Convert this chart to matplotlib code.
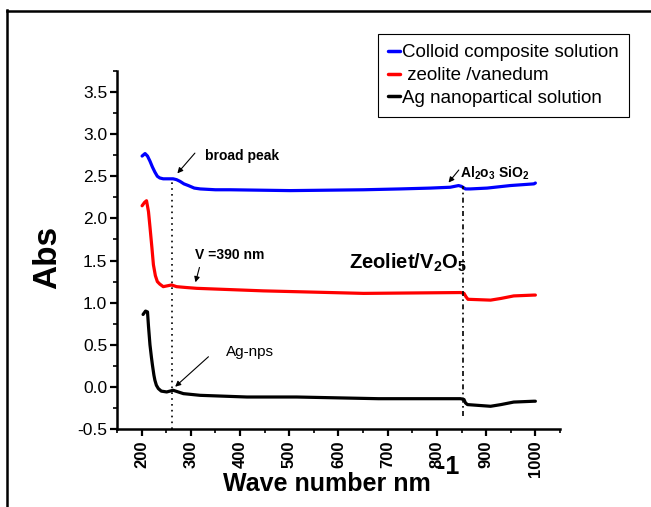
import numpy as np
import matplotlib
matplotlib.use('Agg')
import matplotlib.pyplot as plt
from matplotlib.lines import Line2D
from matplotlib.ticker import MultipleLocator

plt.rcParams['font.family'] = ['Liberation Sans', 'DejaVu Sans']
plt.rcParams['mathtext.fontset'] = 'custom'
plt.rcParams['mathtext.rm'] = 'Liberation Sans'
plt.rcParams['mathtext.bf'] = 'Liberation Sans:bold'

# curves (wave number, Abs)
blue_x = [201, 207, 212, 217, 222, 227, 232, 237, 244, 251, 264, 271, 278, 286, 295,
          307, 319, 350, 380, 502, 651, 726, 787, 827, 844, 850, 858, 868, 902, 949,
          997, 1000]
blue_y = [2.74, 2.77, 2.74, 2.68, 2.61, 2.55, 2.50, 2.48, 2.47, 2.47, 2.47, 2.46,
          2.44, 2.41, 2.39, 2.36, 2.35, 2.34, 2.34, 2.33, 2.34, 2.35, 2.36, 2.37,
          2.39, 2.38, 2.35, 2.35, 2.36, 2.39, 2.41, 2.42]

red_x = [201, 206, 210, 214, 217, 221, 224, 228, 232, 237, 244, 261, 271, 290,
         312, 447, 651, 848, 855, 859, 863, 909, 930, 956, 997, 1000]
red_y = [2.15, 2.19, 2.21, 2.08, 1.90, 1.65, 1.45, 1.32, 1.25, 1.22, 1.19, 1.21,
         1.19, 1.18, 1.17, 1.14, 1.11, 1.12, 1.11, 1.07, 1.04, 1.03, 1.05, 1.08,
         1.09, 1.09]

black_x = [203, 208, 212, 214, 217, 220, 222, 225, 227, 230, 234, 240, 251, 264,
           285, 319, 414, 515, 681, 848, 855, 858, 862, 909, 930, 956, 997, 1000]
black_y = [0.86, 0.90, 0.89, 0.72, 0.50, 0.35, 0.26, 0.14, 0.08, 0.02, -0.02, -0.05,
           -0.06, -0.04, -0.08, -0.10, -0.12, -0.12, -0.14, -0.14, -0.15, -0.19,
           -0.21, -0.23, -0.21, -0.18, -0.17, -0.17]

labels = ['Colloid composite solution', ' zeolite /vanedum', 'Ag nanopartical solution']
colors = ['#0000ff', '#ff0000', '#000000']

fig = plt.figure(figsize=(6.51, 5.07), dpi=100)
ax = fig.add_axes([0.1797, 0.1538, 0.6805, 0.7062])

for xs, ys, c, lab in zip([blue_x, red_x, black_x], [blue_y, red_y, black_y], colors, labels):
    ax.plot(xs, ys, color=c, lw=2.3, label=lab, solid_capstyle='round',
            solid_joinstyle='round')

# guide lines
ax.plot([262, 262], [-0.5, 2.45], color='black', lw=1.2, ls=(0, (1, 2.5)))
ax.plot([852, 852], [-0.35, 2.38], color='black', lw=1.2, ls=(0, (3, 2, 1, 2)))

ax.set_xlim(150, 1050)
ax.set_ylim(-0.5, 3.75)
ax.xaxis.set_major_locator(MultipleLocator(100))
ax.xaxis.set_minor_locator(MultipleLocator(50))
ax.yaxis.set_major_locator(MultipleLocator(0.5))
ax.yaxis.set_minor_locator(MultipleLocator(0.25))
ax.set_xticks(range(200, 1001, 100))
ax.yaxis.set_major_formatter(matplotlib.ticker.FormatStrFormatter('%.1f'))

for s in ['top', 'right']:
    ax.spines[s].set_visible(False)
for s in ['left', 'bottom']:
    ax.spines[s].set_linewidth(1.8)

ax.tick_params(which='major', direction='out', length=5, width=1.6)
ax.tick_params(which='minor', direction='out', length=3, width=1.2)
ax.tick_params(axis='y', labelsize=12.5, pad=2)
ax.tick_params(axis='x', labelsize=12)
for t in ax.get_xticklabels():
    t.set_rotation(90)
    t.set_fontweight('bold')

# annotations
arrow = dict(arrowstyle='-|>', color='black', lw=0.8, mutation_scale=8)
ax.annotate('', xy=(269, 2.51), xytext=(312, 2.80), arrowprops=arrow)
ax.text(329, 2.74, 'broad peak', fontsize=10, fontweight='bold', va='center')
ax.annotate('', xy=(308, 1.21), xytext=(319, 1.45), arrowprops=arrow)
ax.text(308, 1.57, 'V =390 nm', fontsize=10, fontweight='bold', va='center')
ax.annotate('', xy=(264, -0.02), xytext=(340, 0.38), arrowprops=arrow)
ax.text(372, 0.415, 'Ag-nps', fontsize=11, va='center')
ax.annotate('', xy=(820, 2.40), xytext=(848, 2.60), arrowprops=arrow)
ax.text(846, 2.54, r'Al$_\mathbf{2}$o$_\mathbf{3}$ SiO$_\mathbf{2}$', fontsize=10,
        fontweight='bold', va='center')
ax.text(622, 1.47, r'Zeoliet/V$_\mathbf{2}$O$_\mathbf{5}$', fontsize=14.5,
        fontweight='bold', va='center')

fig.text(327 / 651, 1 - 484 / 507, 'Wave number nm', fontsize=18, fontweight='bold',
         ha='center', va='center')
fig.text(448 / 651, 1 - 467 / 507, '-1', fontsize=18, fontweight='bold',
         ha='center', va='center')
fig.text(48 / 651, 1 - 257 / 507, 'Abs', fontsize=24, fontweight='bold',
         ha='center', va='center', rotation=90)

leg = ax.legend(loc='upper left', bbox_to_anchor=(378 / 651, 1 - 34 / 507),
                bbox_transform=fig.transFigure, fontsize=13.5, handlelength=0.6,
                handletextpad=0.15, labelspacing=0.3, borderpad=0.55,
                fancybox=False, framealpha=1, borderaxespad=0)
leg.get_frame().set_edgecolor('black')
leg.get_frame().set_linewidth(0.8)
for h in leg.get_lines():
    h.set_linewidth(2.5)

# outer frame of the picture
fig.add_artist(Line2D([7 / 651, 7 / 651], [0, 1 - 10 / 507], color='black', lw=1.8))
fig.add_artist(Line2D([7 / 651, 1], [1 - 11 / 507, 1 - 11 / 507], color='black', lw=1.8))

fig.savefig('out.png', dpi=100)
